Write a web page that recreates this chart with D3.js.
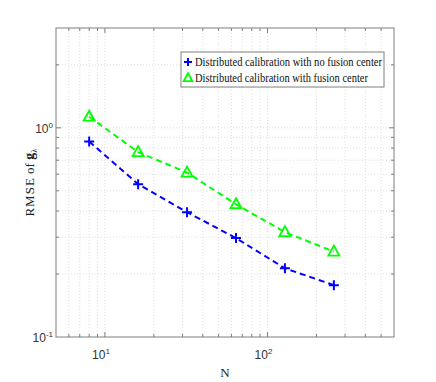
<!DOCTYPE html>
<html>
<head>
<meta charset="utf-8">
<script src="https://cdn.jsdelivr.net/npm/d3@7"></script>
<style>
body { margin: 0; background: #fff; }
</style>
</head>
<body>
<div id="chart"></div>
<script>
const nValues = [8, 16, 32, 64, 128, 256];
const noFusion = [0.86, 0.538, 0.395, 0.297, 0.213, 0.177];
const withFusion = [1.13, 0.765, 0.611, 0.431, 0.317, 0.256];
const seriesNames = ["Distributed calibration with no fusion center", "Distributed calibration with fusion center"];
const xMajor = [10, 100];
const yMajor = [0.1, 1];

const width = 436, height = 382;
const margin = {left: 56, right: 42, top: 28, bottom: 45};

const svg = d3.select('#chart').append('svg')
    .attr('width', width)
    .attr('height', height);

const x = d3.scaleLog().domain([5, 600]).range([margin.left, width - margin.right]);
const y = d3.scaleLog().domain([0.1, 3]).range([height - margin.bottom, margin.top]);

const x0 = margin.left, x1 = width - margin.right;
const y0 = height - margin.bottom, y1 = margin.top;

// minor positions
const xMinor = [];
for (const d of [1, 10, 100]) for (let k = 1; k <= 9; k++) {
    const v = d * k;
    if (v > 5 && v < 600) xMinor.push(v);
}
const yMinor = [];
for (const d of [0.1, 1]) for (let k = 1; k <= 9; k++) {
    const v = d * k;
    if (v > 0.1 && v < 3) yMinor.push(v);
}

// grid
const grid = svg.append('g');
grid.selectAll('.gx').data(xMinor).enter().append('line')
    .attr('x1', d => x(d)).attr('x2', d => x(d))
    .attr('y1', y0).attr('y2', y1)
    .attr('stroke', '#d0d0d0').attr('stroke-width', 0.7)
    .attr('stroke-dasharray', '1,2');
grid.selectAll('.gy').data(yMinor).enter().append('line')
    .attr('y1', d => y(d)).attr('y2', d => y(d))
    .attr('x1', x0).attr('x2', x1)
    .attr('stroke', '#d0d0d0').attr('stroke-width', 0.7)
    .attr('stroke-dasharray', '1,2');

// axes
const axisColor = '#7f7f7f';
const axes = svg.append('g').attr('stroke', axisColor).attr('stroke-width', 1);
axes.append('rect').attr('x', x0).attr('y', y1).attr('width', x1 - x0).attr('height', y0 - y1)
    .attr('fill', 'none');
axes.selectAll('.tb').data(xMinor).enter().append('line')
    .attr('x1', d => x(d)).attr('x2', d => x(d))
    .attr('y1', y0).attr('y2', d => y0 - (xMajor.includes(d) ? 5 : 3));
axes.selectAll('.tt').data(xMinor).enter().append('line')
    .attr('x1', d => x(d)).attr('x2', d => x(d))
    .attr('y1', y1).attr('y2', d => y1 + (xMajor.includes(d) ? 5 : 3));
axes.selectAll('.tl').data(yMinor).enter().append('line')
    .attr('y1', d => y(d)).attr('y2', d => y(d))
    .attr('x1', x0).attr('x2', d => x0 + (yMajor.includes(d) ? 5 : 3));
axes.selectAll('.tr').data(yMinor).enter().append('line')
    .attr('y1', d => y(d)).attr('y2', d => y(d))
    .attr('x1', x1).attr('x2', d => x1 - (yMajor.includes(d) ? 5 : 3));

// tick labels
const sans = "'Liberation Sans', Arial, sans-serif";
svg.selectAll('.xl').data(xMajor).enter().append('text')
    .attr('x', d => x(d) - 4).attr('y', y0 + 22)
    .attr('text-anchor', 'middle')
    .style('font-family', sans).style('font-size', '12px').attr('fill', '#333')
    .each(function (d) {
        const t = d3.select(this);
        t.append('tspan').text('10');
        t.append('tspan').attr('dy', -5).style('font-size', '8px').text(Math.round(Math.log10(d)));
    });
svg.selectAll('.yl').data(yMajor).enter().append('text')
    .attr('x', x0 - 3).attr('y', d => y(d) + 5)
    .attr('text-anchor', 'end')
    .style('font-family', sans).style('font-size', '12px').attr('fill', '#333')
    .each(function (d) {
        const t = d3.select(this);
        t.append('tspan').text('10');
        t.append('tspan').attr('dy', -5).style('font-size', '8px').text(Math.round(Math.log10(d)));
    });

// axis titles
const serif = "'Liberation Serif', 'Times New Roman', serif";
svg.append('text')
    .attr('x', 225).attr('y', 377)
    .attr('text-anchor', 'middle')
    .style('font-family', serif).style('font-size', '13px').attr('fill', '#222')
    .text('N');
const ylab = svg.append('text')
    .attr('transform', `translate(34, ${(y0 + y1) / 2}) rotate(-90)`)
    .attr('text-anchor', 'middle')
    .style('font-family', serif).style('font-size', '13px').attr('fill', '#222');
ylab.append('tspan').text('RMSE').style('letter-spacing', '1px');
ylab.append('tspan').text(' of ');
ylab.append('tspan').text('g').style('font-weight', 'bold').style('font-size', '14px');
ylab.append('tspan').attr('dy', 3).style('font-size', '9px').text('λ');

// series
const series = [
    {name: seriesNames[0], values: noFusion, color: '#0000ff', marker: 'plus'},
    {name: seriesNames[1], values: withFusion, color: '#00ff00', marker: 'tri'}
];
const line = d3.line().x(d => x(d[0])).y(d => y(d[1]));

function drawMarker(g, type, color, s) {
    if (type === 'plus') {
        g.append('path').attr('d', `M${-5 * s},0H${5 * s}M0,${-5 * s}V${5 * s}`)
            .attr('stroke', color).attr('stroke-width', 2).attr('fill', 'none');
    } else {
        g.append('path').attr('d', `M0,${-6 * s}L${5.5 * s},${4 * s}L${-5.5 * s},${4 * s}Z`)
            .attr('stroke', color).attr('stroke-width', 1.8).attr('fill', 'none');
    }
}

series.forEach(s => {
    const pts = nValues.map((n, i) => [n, s.values[i]]);
    svg.append('path').datum(pts)
        .attr('d', line)
        .attr('fill', 'none')
        .attr('stroke', s.color)
        .attr('stroke-width', 2)
        .attr('stroke-dasharray', '6,4');
    svg.selectAll(null).data(pts).enter().append('g')
        .attr('transform', d => `translate(${x(d[0])},${y(d[1])})`)
        .each(function () { drawMarker(d3.select(this), s.marker, s.color, 1); });
});

// legend
const lg = svg.append('g').attr('transform', 'translate(181, 52)');
lg.append('rect').attr('width', 203).attr('height', 35)
    .attr('fill', '#fff').attr('stroke', '#7f7f7f').attr('stroke-width', 1);
series.forEach((s, i) => {
    const row = lg.append('g').attr('transform', `translate(0, ${10 + i * 16})`);
    row.append('g').attr('transform', 'translate(7, 0)')
        .each(function () { drawMarker(d3.select(this), s.marker, s.color, 0.8); });
    row.append('text')
        .attr('x', 14).attr('y', 4)
        .style('font-family', serif).style('font-size', '12px').attr('fill', '#111')
        .attr('textLength', i === 0 ? 187 : 173)
        .attr('lengthAdjust', 'spacingAndGlyphs')
        .text(s.name);
});
</script>
</body>
</html>
